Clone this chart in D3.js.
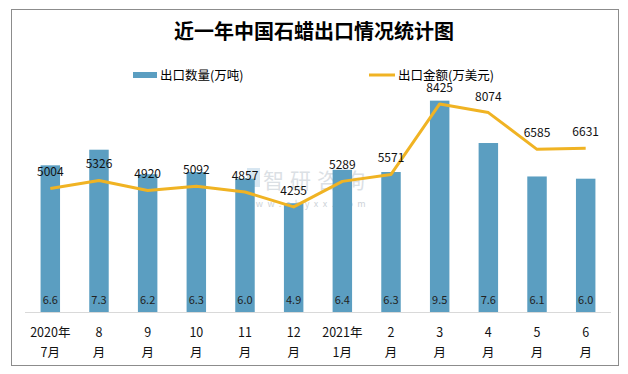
<!DOCTYPE html>
<html>
<head>
    <meta charset="utf-8">
    <style>
        body { margin: 0; background: #fff; }
        text { font-family: "Noto Sans CJK SC", "DejaVu Sans", sans-serif; }
    </style>
</head>
<body>
    <div id="chart"></div>
    <script src="https://d3js.org/d3.v7.min.js"></script>
    <script>
        // data
        const months = ["2020年7月", "8月", "9月", "10月", "11月", "12月", "2021年1月", "2月", "3月", "4月", "5月", "6月"];
        const labelTop = ["2020年", "8", "9", "10", "11", "12", "2021年", "2", "3", "4", "5", "6"];
        const labelBottom = ["7月", "月", "月", "月", "月", "月", "1月", "月", "月", "月", "月", "月"];
        const volume = [6.6, 7.3, 6.2, 6.3, 6.0, 4.9, 6.4, 6.3, 9.5, 7.6, 6.1, 6.0];
        const amount = [5004, 5326, 4920, 5092, 4857, 4255, 5289, 5571, 8425, 8074, 6585, 6631];

        const width = 628, height = 374;
        const barColor = "#5b9ec1", lineColor = "#f0b323";

        const svg = d3.select("#chart").append("svg")
            .attr("width", width)
            .attr("height", height);

        // outer frame
        svg.append("rect")
            .attr("x", 11.5).attr("y", 9.5)
            .attr("width", 607).attr("height", 356)
            .attr("fill", "#fff")
            .attr("stroke", "#8c8c8c");

        svg.append("text")
            .attr("x", 314).attr("y", 39)
            .attr("text-anchor", "middle")
            .style("font-size", "20px")
            .style("font-weight", "bold")
            .text("近一年中国石蜡出口情况统计图");

        // legend
        svg.append("rect")
            .attr("x", 133).attr("y", 72)
            .attr("width", 24).attr("height", 6)
            .attr("fill", barColor);
        svg.append("text")
            .attr("x", 160).attr("y", 80)
            .style("font-size", "12.5px")
            .text("出口数量(万吨)");
        svg.append("line")
            .attr("x1", 369).attr("x2", 395)
            .attr("y1", 75).attr("y2", 75)
            .attr("stroke", lineColor).attr("stroke-width", 3);
        svg.append("text")
            .attr("x", 398).attr("y", 80)
            .style("font-size", "12.5px")
            .text("出口金额(万美元)");

        // scales
        const x = d3.scaleBand()
            .domain(months)
            .range([25, 611])
            .paddingInner(0.6)
            .paddingOuter(0.32);

        const yBar = d3.scaleLinear()
            .domain([0, 10])
            .range([312.5, 89.5]);

        const yLine = d3.scaleLinear()
            .domain([0, 10000])
            .range([312, 65]);

        // watermark
        const wm = svg.append("g").attr("opacity", 0.35);
        wm.append("rect")
            .attr("x", 247).attr("y", 168)
            .attr("width", 13).attr("height", 19)
            .attr("fill", "#8fb8d8");
        wm.append("text")
            .attr("x", 263).attr("y", 188)
            .style("font-size", "21px")
            .style("letter-spacing", "6px")
            .attr("fill", "#9aa7b4")
            .text("智研咨询");
        wm.append("text")
            .attr("x", 244).attr("y", 207)
            .style("font-size", "9px")
            .style("letter-spacing", "4.5px")
            .attr("fill", "#6f7f8f")
            .text("www.chyxx.com");

        // bars
        svg.selectAll(".bar")
            .data(volume)
            .enter()
            .append("rect")
            .attr("class", "bar")
            .attr("x", (d, i) => x(months[i]))
            .attr("y", d => yBar(d))
            .attr("width", x.bandwidth())
            .attr("height", d => yBar(0) - yBar(d))
            .attr("fill", barColor);

        // axis line
        svg.append("line")
            .attr("x1", 25).attr("x2", 611)
            .attr("y1", 312.5).attr("y2", 312.5)
            .attr("stroke", "#d9d9d9");

        // bar value labels
        svg.selectAll(".vlabel")
            .data(volume)
            .enter()
            .append("text")
            .attr("class", "vlabel")
            .attr("x", (d, i) => x(months[i]) + x.bandwidth() / 2)
            .attr("y", 304)
            .attr("text-anchor", "middle")
            .style("font-size", "11px")
            .attr("fill", "#222")
            .text(d => d.toFixed(1));

        // line
        const line = d3.line()
            .x((d, i) => x(months[i]) + x.bandwidth() / 2)
            .y(d => yLine(d));

        svg.append("path")
            .datum(amount)
            .attr("d", line)
            .attr("fill", "none")
            .attr("stroke", lineColor)
            .attr("stroke-width", 3)
            .attr("stroke-linejoin", "round");

        svg.selectAll(".alabel")
            .data(amount)
            .enter()
            .append("text")
            .attr("class", "alabel")
            .attr("x", (d, i) => x(months[i]) + x.bandwidth() / 2)
            .attr("y", d => yLine(d) - 12)
            .attr("text-anchor", "middle")
            .style("font-size", "12px")
            .attr("fill", "#111")
            .text(d => d);

        // category labels
        const cat = svg.selectAll(".cat")
            .data(months)
            .enter()
            .append("text")
            .attr("class", "cat")
            .attr("text-anchor", "middle")
            .style("font-size", "12.5px")
            .attr("fill", "#111");
        cat.append("tspan")
            .attr("x", d => x(d) + x.bandwidth() / 2)
            .attr("y", 337)
            .text((d, i) => labelTop[i]);
        cat.append("tspan")
            .attr("x", d => x(d) + x.bandwidth() / 2)
            .attr("y", 357)
            .text((d, i) => labelBottom[i]);
    </script>
</body>
</html>
